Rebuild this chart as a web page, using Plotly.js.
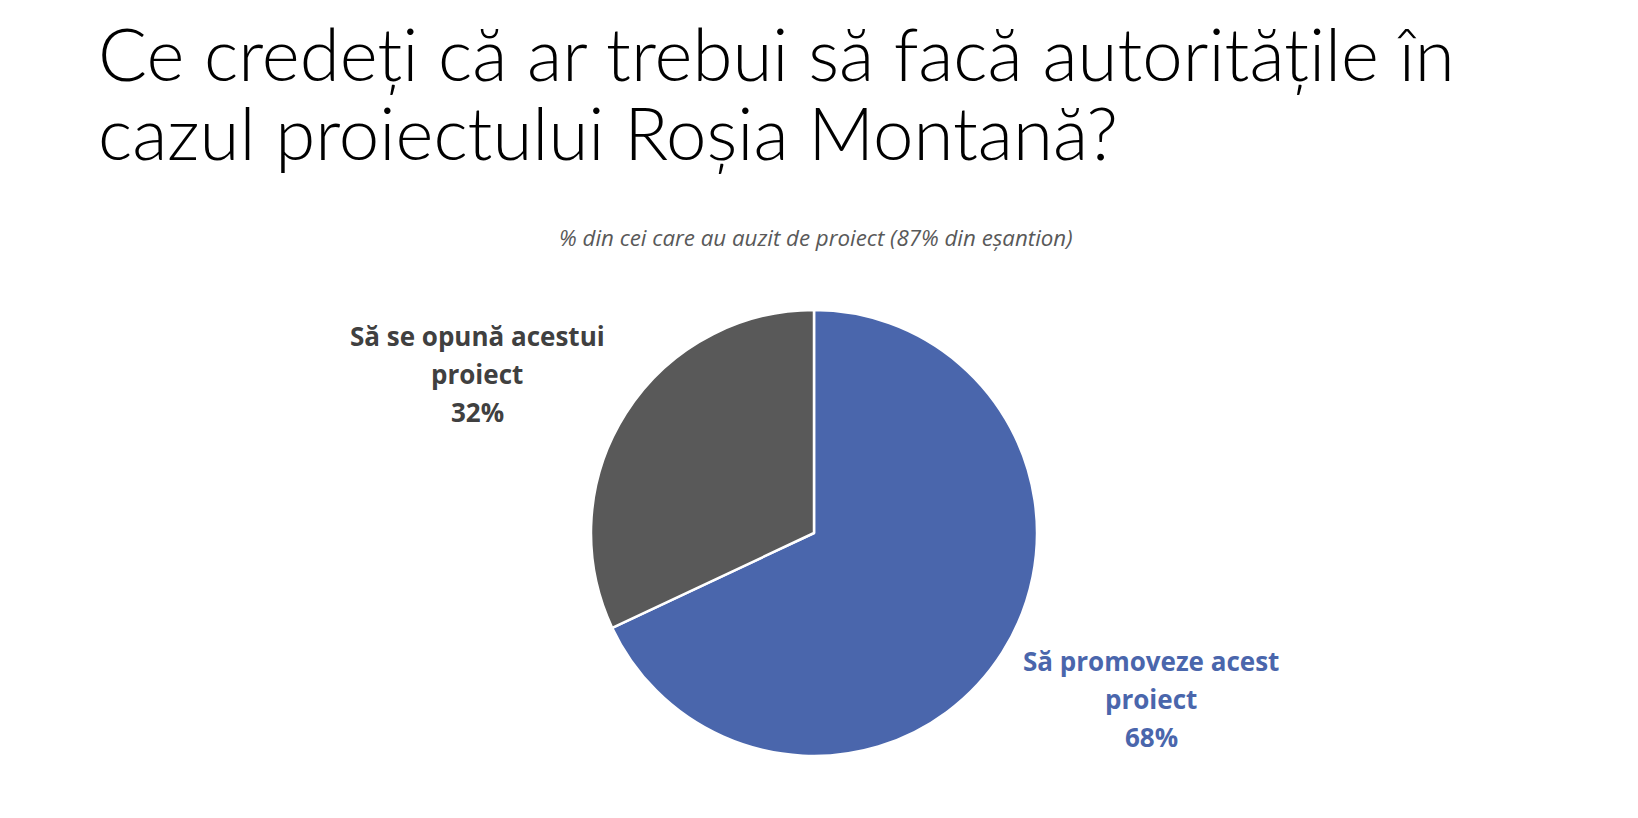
<!DOCTYPE html>
<html>
<head>
<meta charset="utf-8">
<script src="https://cdn.plot.ly/plotly-3.0.1.min.js"></script>
<style>
  html, body { margin:0; padding:0; background:#fff; }
  #chart { width:1638px; height:818px; }
</style>
</head>
<body>
<div id="chart"></div>
<script>
// Date sondaj - Roșia Montană
const labels = ['Să promoveze acest proiect', 'Să se opună acestui proiect'];
const labelLines = [['Să promoveze acest', 'proiect'], ['Să se opună acestui', 'proiect']];
const values = [68, 32];
const colors = ['#4a66ac', '#595959'];
const labelColors = ['#4a66ac', '#404040'];
const titleLines = ['Ce credeți că ar trebui să facă autoritățile în', 'cazul proiectului Roșia Montană?'];
const subtitle = '% din cei care au auzit de proiect (87% din eșantion)';
// poziția etichetelor (px, centru)
const labelPos = [[1151, 699], [477, 374]];

const W = 1638, H = 818;
const px = (x)=>x/W, py = (y)=>1-y/H;

const trace = {
  type:'pie',
  labels, values,
  sort:false,
  direction:'clockwise',
  rotation:0,
  marker:{colors, line:{color:'#ffffff', width:2.5}},
  textinfo:'none',
  hoverinfo:'label+percent',
  domain:{x:[px(591), px(1037)], y:[py(756), py(310)]},
  showlegend:false
};

const annotations = [];
values.forEach((v,i)=>{
  const lines = labelLines[i].concat([v + '%']);
  lines.forEach((t,j)=>{
    annotations.push({
      xref:'paper', yref:'paper',
      x:px(labelPos[i][0]), y:py(labelPos[i][1] + (j-1)*38),
      xanchor:'center', yanchor:'middle', showarrow:false,
      text:t,
      font:{family:'"Open Sans", Lato, sans-serif', size:26, color:labelColors[i], weight:700}
    });
  });
});

annotations.push({
  xref:'paper', yref:'paper', x:px(816), y:py(238),
  xanchor:'center', yanchor:'middle', showarrow:false,
  text:'<i>' + subtitle + '</i>',
  font:{family:'"Open Sans", Lato, sans-serif', size:22.3, color:'#595959'}
});

titleLines.forEach((t,j)=>{
  annotations.push({
    xref:'paper', yref:'paper', x:px(96), y:py(53 + j*79),
    xanchor:'left', yanchor:'middle', showarrow:false, align:'left',
    text:t,
    font:{family:'Lato, "Open Sans", sans-serif', size:72.6, color:'#000000', weight:300}
  });
});

const layout = {
  width:W, height:H,
  margin:{t:0,r:0,l:0,b:0},
  paper_bgcolor:'#ffffff',
  annotations
};

Plotly.newPlot('chart', [trace], layout, {displayModeBar:false, staticPlot:true});
</script>
</body>
</html>
